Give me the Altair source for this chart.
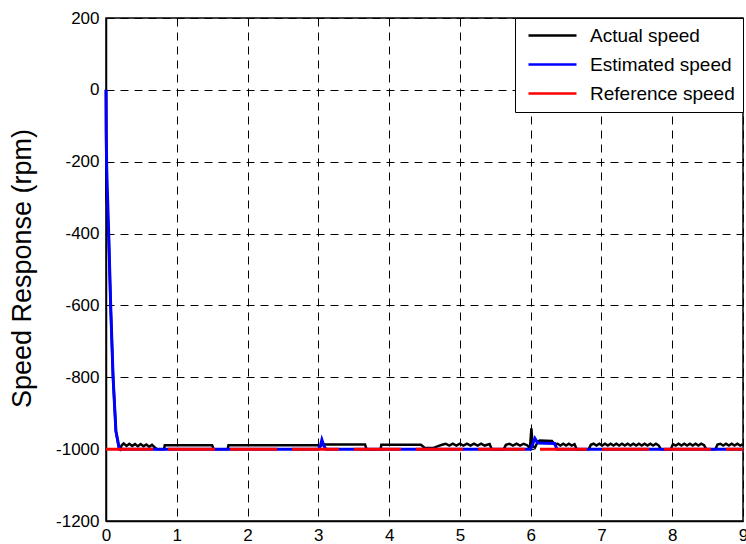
import altair as alt
import pandas as pd

# ---- data ----
x_ticks = [0, 1, 2, 3, 4, 5, 6, 7, 8, 9]
y_ticks = [-1200, -1000, -800, -600, -400, -200, 0, 200]
series_names = ["Actual speed", "Estimated speed", "Reference speed"]
series_colors = ["#000000", "#0000ff", "#ff0000"]

actual_t = [
    0, 0.003, 0.006, 0.02, 0.04, 0.065, 0.1, 0.14, 0.18, 0.2,
    0.22, 0.25, 0.29, 0.33, 0.37, 0.41, 0.45, 0.49, 0.53, 0.57, 0.61, 0.65, 0.69, 0.72,
    0.82, 0.83, 1.5, 1.52, 1.72, 1.73, 3.0, 3.02, 3.05, 3.66, 3.68, 3.88, 3.89, 4.45, 4.5, 4.62, 4.7, 4.76,
    4.8, 4.85, 4.9, 4.95, 5.0, 5.05, 5.1, 5.15, 5.2, 5.25, 5.3, 5.35, 5.42, 5.45,
    5.62, 5.65, 5.7, 5.75, 5.8, 5.85, 5.9, 5.95, 5.99, 6.01, 6.03, 6.06, 6.1, 6.13, 6.3, 6.34,
    6.38, 6.42, 6.46, 6.5, 6.54, 6.58, 6.62, 6.65, 6.82, 6.85,
    6.89, 6.93, 6.97, 7.01, 7.05, 7.09, 7.13, 7.17, 7.21, 7.25, 7.29, 7.33,
    7.37, 7.41, 7.45, 7.49, 7.53, 7.57, 7.61, 7.65, 7.69, 7.73, 7.77, 7.81, 7.84,
    7.98, 8.01, 8.05, 8.09, 8.13, 8.17, 8.21, 8.25, 8.29, 8.33, 8.37, 8.41, 8.45, 8.48,
    8.61, 8.64, 8.68, 8.72, 8.76, 8.8, 8.84, 8.88, 8.92, 8.96, 9.0,
]
actual_v = [
    0, -150, -300, -330, -420, -600, -800, -950, -995, -1000,
    -990, -984, -991, -985, -991, -986, -992, -986, -992, -987, -993, -988, -995, -1000,
    -1000, -989, -989, -1000, -1000, -989, -989, -995, -987, -987, -1000, -1000, -988, -988, -996, -997, -991, -987,
    -985, -990, -985, -990, -985, -990, -985, -990, -985, -990, -985, -990, -986, -1000,
    -1000, -988, -985, -990, -985, -990, -985, -989, -998, -942, -992, -996, -979, -976, -977, -987,
    -985, -990, -985, -990, -985, -990, -986, -1000, -1000, -988,
    -985, -990, -985, -990, -985, -990, -985, -990, -985, -990, -985, -990,
    -985, -990, -985, -990, -985, -990, -985, -990, -985, -990, -985, -990, -1000,
    -1000, -986, -990, -985, -990, -985, -990, -985, -990, -985, -990, -985, -989, -1000,
    -1000, -987, -985, -990, -985, -990, -985, -990, -985, -990, -986,
]

estimated_t = [0, 0.003, 0.01, 0.038, 0.066, 0.1, 0.14, 0.19,
               3.0, 3.03, 3.05, 3.08, 3.11, 6.0, 6.03, 6.06, 6.1, 6.34, 6.37, 9.0]
estimated_v = [0, -120, -220, -400, -600, -800, -950, -1000,
               -1000, -990, -974, -992, -1000, -1000, -985, -970, -983, -984, -1000, -1000]

reference_t = [0, 9]
reference_v = [-1000, -1000]

df_act = pd.DataFrame({"t": actual_t, "v": actual_v, "series": series_names[0]})
df_est = pd.DataFrame({"t": estimated_t, "v": estimated_v, "series": series_names[1]})
df_ref = pd.DataFrame({"t": reference_t, "v": reference_v, "series": series_names[2]})

FONT = "Liberation Sans"

x_enc = alt.X("t:Q", scale=alt.Scale(domain=[0, 9], nice=False, zero=False),
              axis=alt.Axis(values=x_ticks, title=None, labelExpr="datum.value + ''",
                            labelFlush=False))
y_enc = alt.Y("v:Q", scale=alt.Scale(domain=[-1200, 200], nice=False, zero=False),
              axis=alt.Axis(values=y_ticks, title="Speed Response (rpm)",
                            labelExpr="datum.value + ''",
                            titleFontSize=27, titleFont=FONT, titleFontWeight="normal",
                            titleX=-84, titleY=250, titleAlign="center",
                            titleBaseline="middle", titleAngle=270, titleColor="black"))
color_enc = alt.Color(
    "series:N",
    scale=alt.Scale(domain=series_names, range=series_colors),
    title=None,
    legend=alt.Legend(
        orient="top-right", offset=0, padding=8, rowPadding=9,
        symbolType="M-4,0H4", symbolSize=144, symbolStrokeWidth=2.5,
        symbolOffset=20, labelOffset=28, labelFontSize=19, labelFont=FONT,
        labelColor="black", labelLimit=400, strokeColor="black", fillColor="white",
        symbolDash=[1, 0],
    ),
)

line_act = alt.Chart(df_act).mark_line(strokeWidth=2.5, interpolate="linear").encode(
    x=x_enc, y=y_enc, color=color_enc, order="t:Q")
line_est = alt.Chart(df_est).mark_line(strokeWidth=3, interpolate="linear").encode(
    x=x_enc, y=y_enc, color=color_enc, order="t:Q")
line_ref = alt.Chart(df_ref).mark_line(strokeWidth=3, strokeDash=[47, 15]).encode(
    x=x_enc, y=y_enc, color=color_enc)

chart = alt.layer(line_act, line_est, line_ref).properties(
    width=637, height=503,
    autosize=alt.AutoSizeParams(type="none"),
    padding={"left": 106, "top": 18, "right": 3, "bottom": 23},
    background="white",
).configure_view(
    stroke="black", strokeWidth=1.5,
).configure_axis(
    labelFont=FONT, labelFontSize=17, labelColor="black",
    grid=True, gridColor="black", gridDash=[8, 6], gridWidth=1, gridOpacity=1,
    ticks=False, domainColor="black", domainWidth=1.5,
    labelPadding=6,
).configure_axisX(
    labelPadding=6,
).configure_axisY(
    labelPadding=7,
)

chart.save("out.html", embed_options={"renderer": "svg", "actions": False})
